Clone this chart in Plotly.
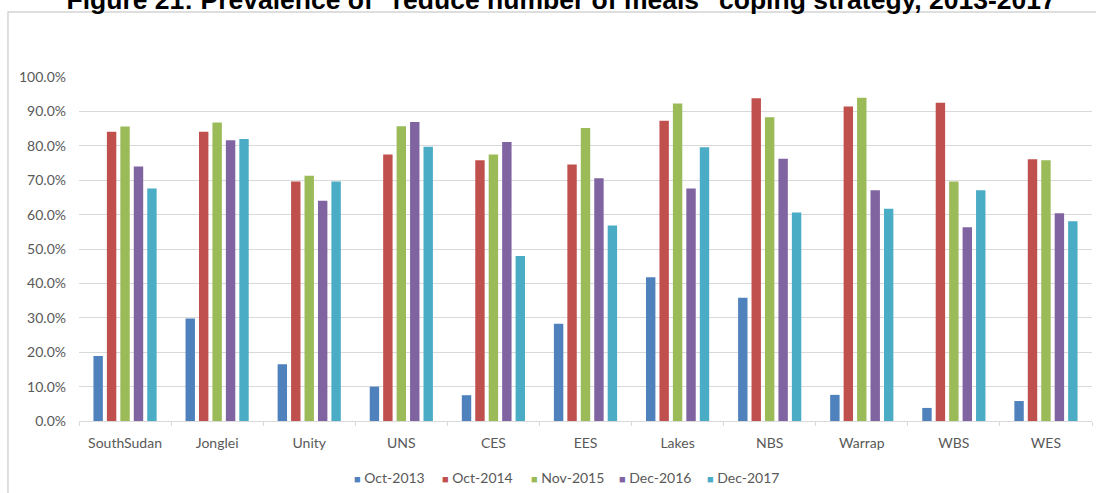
import plotly.graph_objects as go

# Regions (x categories)
regions = ["SouthSudan", "Jonglei", "Unity", "UNS", "CES", "EES",
           "Lakes", "NBS", "Warrap", "WBS", "WES"]

# Survey rounds (series)
rounds = ["Oct-2013", "Oct-2014", "Nov-2015", "Dec-2016", "Dec-2017"]

# Share of households using the coping strategy, in percent
oct_2013 = [18.9, 29.8, 16.5, 10.0, 7.5, 28.3, 41.8, 35.8, 7.6, 3.8, 5.8]
oct_2014 = [84.1, 84.1, 69.6, 77.5, 75.8, 74.6, 87.3, 93.8, 91.4, 92.5, 76.1]
nov_2015 = [85.6, 86.8, 71.3, 85.7, 77.5, 85.2, 92.3, 88.3, 94.0, 69.6, 75.8]
dec_2016 = [74.0, 81.6, 64.0, 86.9, 81.1, 70.6, 67.6, 76.2, 67.1, 56.3, 60.4]
dec_2017 = [67.6, 82.0, 69.6, 79.7, 48.0, 56.8, 79.6, 60.6, 61.7, 67.1, 58.1]

series_values = [oct_2013, oct_2014, nov_2015, dec_2016, dec_2017]
colors = ["#4F81BD", "#C0504D", "#9BBB59", "#8064A2", "#4BACC6"]

TICK_FONT = dict(family="Lato, Calibri, sans-serif", size=14, color="#595959")

fig = go.Figure()
for name, vals, col in zip(rounds, series_values, colors):
    fig.add_trace(go.Bar(
        x=regions, y=vals, name=name,
        marker=dict(color=col, line=dict(width=0)),
        showlegend=False,
    ))

# Legend row: small coloured squares followed by the round name
legend_x0 = 0.2695
legend_step = 0.0872
for i, (name, col) in enumerate(zip(rounds, colors)):
    fig.add_annotation(
        x=legend_x0 + i * legend_step, y=-0.163,
        xref="paper", yref="paper",
        xanchor="left", yanchor="middle",
        showarrow=False,
        text=f"<span style='color:{col};font-size:11px'>■</span> {name}",
        font=TICK_FONT,
    )

# Chart frame
fig.add_shape(
    type="rect", xref="paper", yref="paper",
    x0=-0.0701, x1=1.05, y0=-0.4, y1=1.189,
    line=dict(color="#d4d4d4", width=1.5),
    fillcolor="rgba(0,0,0,0)", layer="below",
)

fig.update_layout(
    width=1096, height=493,
    margin=dict(l=79, r=4, t=77, b=72),
    paper_bgcolor="white", plot_bgcolor="white",
    barmode="group", bargap=0.27, bargroupgap=0.3,
    title=dict(
        text="<b>Figure 21: Prevalence of \"reduce number of meals\" coping strategy, 2013-2017</b>",
        x=0.512, xref="container", xanchor="center",
        y=1.0, yref="container", yanchor="middle",
        font=dict(family="Liberation Sans, Arial, sans-serif", size=26.5, color="black"),
    ),
    xaxis=dict(
        showgrid=False, showline=True, linecolor="#d9d9d9", linewidth=1,
        ticks="outside", tickson="boundaries", ticklen=4, tickcolor="#d9d9d9",
        tickfont=TICK_FONT, ticklabelstandoff=9,
    ),
    yaxis=dict(
        range=[0, 100], dtick=10, tickformat=".1f", ticksuffix="%",
        showgrid=True, gridcolor="#d9d9d9", gridwidth=1,
        zeroline=False, showline=False, ticks="",
        tickfont=TICK_FONT, ticklabelstandoff=12,
    ),
)

fig.write_html("out.html")
